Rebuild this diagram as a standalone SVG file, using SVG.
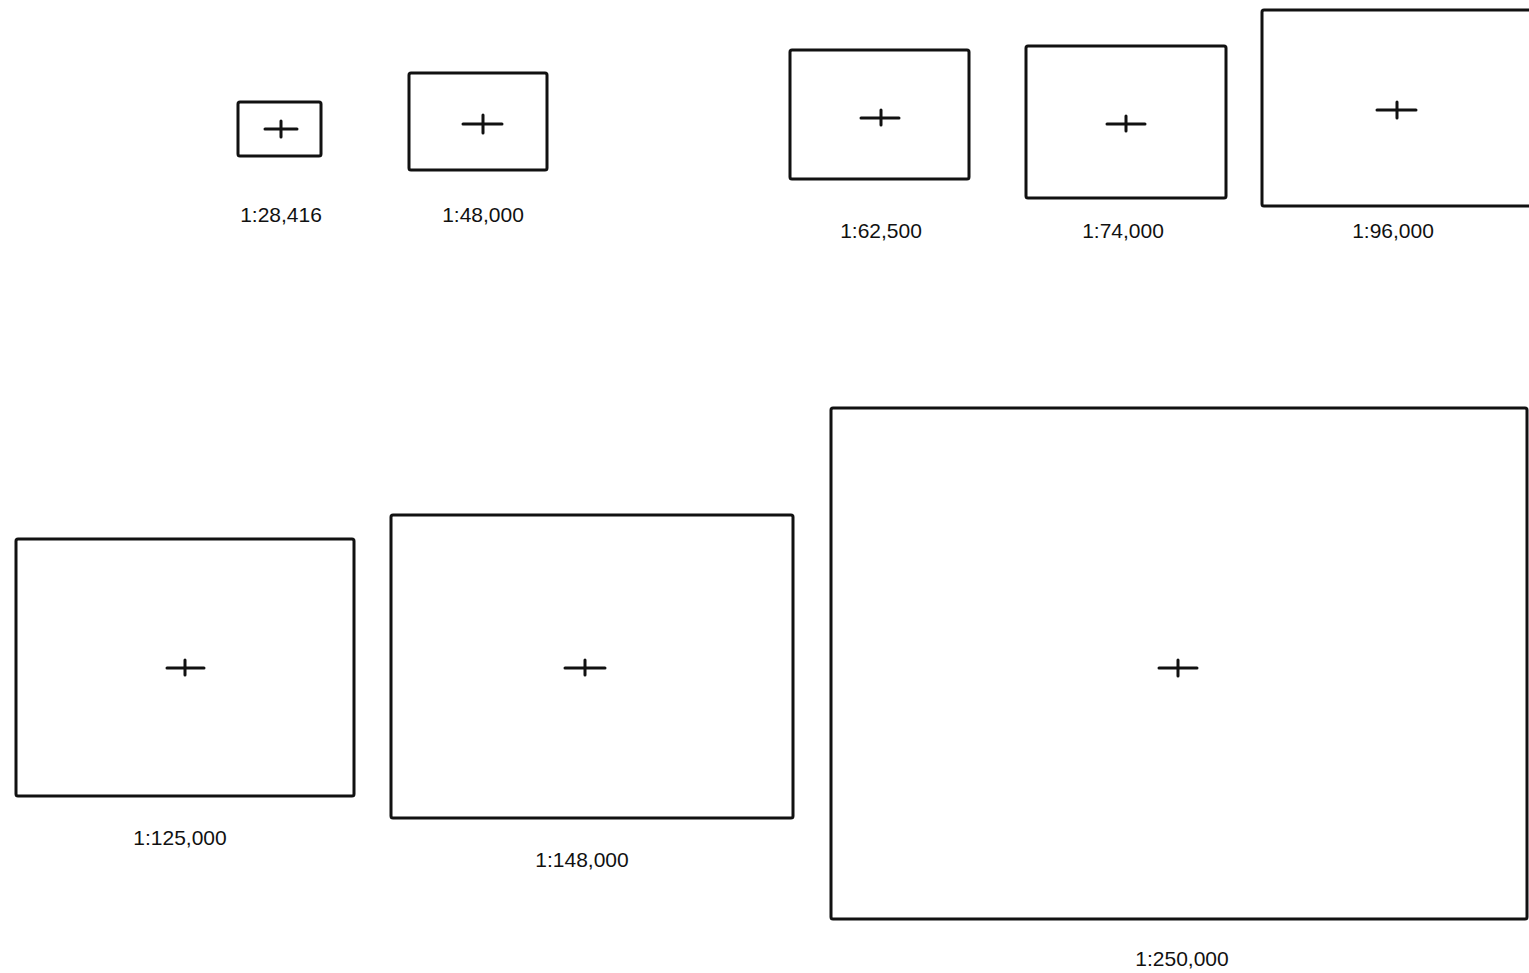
<svg xmlns="http://www.w3.org/2000/svg" width="1529" height="973" viewBox="0 0 1529 973">
<style>
.frame{fill:none;stroke:#111;stroke-width:3;stroke-linejoin:round}
.cross{stroke:#111;stroke-width:3;stroke-linecap:round}
.lbl{font-family:"Liberation Sans",Arial,sans-serif;font-size:21px;fill:#111;text-anchor:middle}
</style>
<rect width="1529" height="973" fill="#fff"/>
<g id="s28416">
<rect class="frame" x="238" y="102" width="83" height="54" rx="2"/>
<path class="cross" d="M265 129H297M281 121V137"/>
<text class="lbl" x="281" y="222">1:28,416</text>
</g>
<g id="s48000">
<rect class="frame" x="409" y="73" width="138" height="97" rx="2"/>
<path class="cross" d="M463 124H502M483 115V133"/>
<text class="lbl" x="483" y="222">1:48,000</text>
</g>
<g id="s62500">
<rect class="frame" x="790" y="50" width="179" height="129" rx="2"/>
<path class="cross" d="M861 118H899M881 110V125"/>
<text class="lbl" x="881" y="238">1:62,500</text>
</g>
<g id="s74000">
<rect class="frame" x="1026" y="46" width="200" height="152" rx="2"/>
<path class="cross" d="M1107 124H1145M1126 116V131"/>
<text class="lbl" x="1123" y="238">1:74,000</text>
</g>
<g id="s96000">
<rect class="frame" x="1262" y="10" width="270" height="196" rx="2"/>
<path class="cross" d="M1377 110H1416M1397 102V118"/>
<text class="lbl" x="1393" y="238">1:96,000</text>
</g>
<g id="s125000">
<rect class="frame" x="16" y="539" width="338" height="257" rx="2"/>
<path class="cross" d="M167 668H204M185 660V675"/>
<text class="lbl" x="180" y="845">1:125,000</text>
</g>
<g id="s148000">
<rect class="frame" x="391" y="515" width="402" height="303" rx="2"/>
<path class="cross" d="M565 668H605M585 660V675"/>
<text class="lbl" x="582" y="867">1:148,000</text>
</g>
<g id="s250000">
<rect class="frame" x="831" y="408" width="696" height="511" rx="2"/>
<path class="cross" d="M1159 668H1197M1178 660V676"/>
<text class="lbl" x="1182" y="966">1:250,000</text>
</g>
<g id="connectors"/>
</svg>
